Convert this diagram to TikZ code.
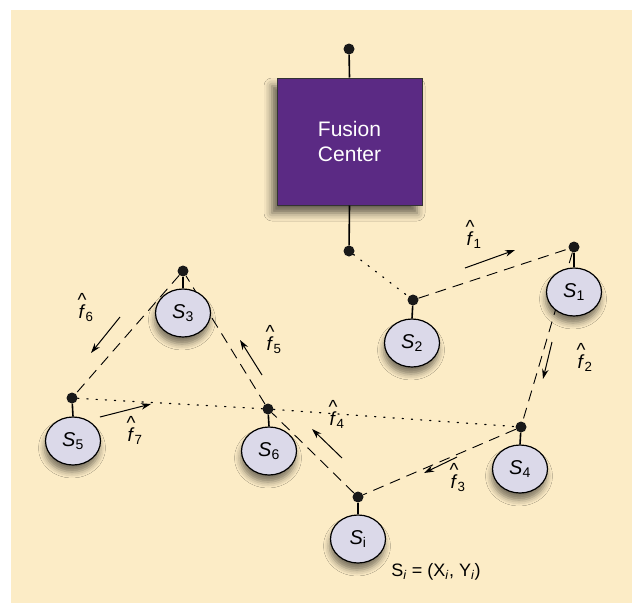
\documentclass[tikz,border=0pt]{standalone}
\usepackage{fontspec}
\setmainfont{Liberation Sans}
\usetikzlibrary{shapes.geometric,arrows.meta,shadows.blur}

\definecolor{paper}{HTML}{FCECC6}
\definecolor{fusion}{HTML}{5B2A84}
\definecolor{sensorfill}{HTML}{DBD9E9}

\newcommand{\sn}[1]{\textit{S}\textsubscript{#1}}
\newcommand{\fh}[1]{\ooalign{\textit{f}\cr\hidewidth\raisebox{0.62em}{\textasciicircum}\hidewidth\cr}\textsubscript{#1}}

\begin{document}
\begin{tikzpicture}[x=1pt,y=-1pt,
    sensor/.style = {draw, ellipse, fill=sensorfill, line width=1.2pt, minimum width=55pt, minimum height=48pt, inner sep=0pt,
      blur shadow={shadow xshift=-1pt, shadow yshift=-7pt, shadow blur radius=6pt, shadow opacity=50},
      font=\fontsize{20}{20}\selectfont},
    dot/.style = {circle, fill=black!90, inner sep=0pt, minimum size=11pt},
    stem/.style = {line width=1.6pt},
    link/.style = {dash pattern=on 11pt off 7pt, line width=0.9pt},
    hop/.style = {dash pattern=on 1.2pt off 8pt, line width=1.2pt, line cap=round},
    flow/.style = {-{Stealth[length=10pt,width=6.5pt]}, line width=1pt},
    est/.style = {font=\fontsize{19}{19}\selectfont}]
    \useasboundingbox (0,0) rectangle (632,603);
    \fill[paper] (11,10) rectangle (632,603);

    % fusion center
    \node[draw=black!80, fill=fusion, line width=1pt, minimum width=145pt, minimum height=127pt, text=white,
      align=center, font=\fontsize{21}{25}\selectfont,
      blur shadow={shadow xshift=-5pt, shadow yshift=-8pt, shadow blur radius=8pt, shadow opacity=60}]
      (fc) at (349.5,141.5) {Fusion\\Center};
    \node[dot] (d0) at (349,49) {};
    \node[dot] (dfc) at (349,251) {};
    \draw[stem] (d0) -- (fc.north);
    \draw[stem] (fc.south) -- (dfc);

    % sensor dots
    \node[dot] (d1) at (574,247) {};
    \node[dot] (d2) at (413,300) {};
    \node[dot] (d3) at (183,271) {};
    \node[dot] (d4) at (521,427) {};
    \node[dot] (d5) at (72,398) {};
    \node[dot] (d6) at (268,409) {};
    \node[dot] (di) at (358,497) {};

    % paths
    \draw[hop] (dfc) -- (d2);
    \draw[hop] (d5) -- (d6) -- (d4);
    \draw[link] (d2) -- (d1);
    \draw[link] (d1) -- (d4);
    \draw[link] (d4) -- (di);
    \draw[link] (di) -- (d6);
    \draw[link] (d6) -- (d3);
    \draw[link] (d3) -- (d5);

    % sensors
    \node[sensor] (s1) at (574,292) {\sn{1}};
    \node[sensor] (s2) at (412,343) {\sn{2}};
    \node[sensor] (s3) at (183,313) {\sn{3}};
    \node[sensor] (s4) at (520,469) {\sn{4}};
    \node[sensor] (s5) at (73,441) {\sn{5}};
    \node[sensor] (s6) at (269,451) {\sn{6}};
    \node[sensor] (si) at (358,539) {\sn{i}};
    \foreach \n in {1,2,3,4,5,6,i}
        \draw[stem] (d\n) -- (s\n.north);
    \node[font=\fontsize{18}{18}\selectfont] (pos) at (436,572) {S\textsubscript{\textit{i}} = (X\textsubscript{\textit{i}}, Y\textsubscript{\textit{i}})};

    % estimates passed along
    \coordinate (a1) at (465,268); \coordinate (b1) at (515,250);
    \coordinate (a2) at (552,342); \coordinate (b2) at (543,379);
    \coordinate (a3) at (457,457); \coordinate (b3) at (424,473);
    \coordinate (a4) at (342,458); \coordinate (b4) at (312,429);
    \coordinate (a5) at (262,375); \coordinate (b5) at (240,340);
    \coordinate (a6) at (120,317); \coordinate (b6) at (91,353);
    \coordinate (a7) at (100,417); \coordinate (b7) at (151,404);
    \foreach \n in {1,...,7}
        \draw[flow] (a\n) -- (b\n);
    \node[est] (f1) at (474,240) {\fh{1}};
    \node[est] (f2) at (585,363) {\fh{2}};
    \node[est] (f3) at (458,483) {\fh{3}};
    \node[est] (f4) at (337,420) {\fh{4}};
    \node[est] (f5) at (274,345) {\fh{5}};
    \node[est] (f6) at (86,313) {\fh{6}};
    \node[est] (f7) at (135,436) {\fh{7}};
\end{tikzpicture}
\end{document}
